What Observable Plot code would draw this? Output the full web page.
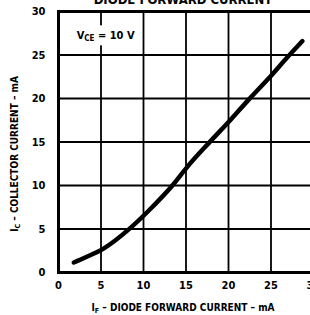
<!DOCTYPE html>
<html><head><meta charset="utf-8">
<script src="https://cdn.jsdelivr.net/npm/d3@7"></script>
<script src="https://cdn.jsdelivr.net/npm/@observablehq/plot@0.6"></script>
<style>html,body{margin:0;padding:0;background:#fff;overflow:hidden}</style>
</head><body><div id="chart"></div>
<script>
const diodeCurrent = [1.8, 3.2, 5.3, 8.2, 10.6, 13.4, 15.2, 17.7, 20.2, 22.4, 24.9, 26.9, 28.7];
const collectorCurrent = [1.15, 1.75, 2.75, 4.9, 7.1, 10.0, 12.2, 14.9, 17.5, 19.9, 22.5, 24.7, 26.6];
const xTicks = [0, 5, 10, 15, 20, 25, 30];
const yTicks = [0, 5, 10, 15, 20, 25, 30];
const gridX = [5, 10, 15, 20, 25];
const gridY = [5, 10, 15, 20, 25];
const annotationPos = [5.6, 27.2];
const titleText = "DIODE FORWARD CURRENT";
const yLabel = ["I", "C", " – COLLECTOR CURRENT – mA"];
const xLabel = ["I", "F", " – DIODE FORWARD CURRENT – mA"];
const annoLabel = ["V", "CE", " = 10 V"];

const data = diodeCurrent.map((x, i) => ({x, y: collectorCurrent[i]}));
const font = "'Liberation Sans Narrow','DejaVu Sans Condensed','Liberation Sans',sans-serif";

const chart = Plot.plot({
  width: 310,
  height: 315,
  marginLeft: 58,
  marginRight: -3,
  marginTop: 11,
  marginBottom: 43,
  style: {fontFamily: font, fontWeight: "bold", fontSize: "11px", background: "#fff", color: "#000"},
  x: {domain: [0, 30]},
  y: {domain: [0, 30]},
  marks: [
    Plot.ruleX(gridX, {stroke: "#000", strokeWidth: 1.8}),
    Plot.ruleY(gridY, {stroke: "#000", strokeWidth: 1.8}),
    Plot.frame({stroke: "#000", strokeWidth: 3}),
    Plot.line(data, {x: "x", y: "y", curve: "monotone-x", stroke: "#000", strokeWidth: 4.5}),
    Plot.axisX({ticks: xTicks, tickSize: 0, tickPadding: 9, label: null, fontWeight: "bold"}),
    Plot.axisY({ticks: yTicks, tickSize: 0, tickPadding: 13, label: null, fontWeight: "bold"})
  ]
});
document.getElementById("chart").appendChild(chart);

const svg = d3.select(chart);
const sx = chart.scale("x"), sy = chart.scale("y");

function sub(textSel, parts, subSize) {
  textSel.append("tspan").text(parts[0]);
  textSel.append("tspan").attr("font-size", subSize).attr("dy", 2).text(parts[1]);
  textSel.append("tspan").attr("dy", -2).text(parts[2]);
}

// annotation with white background
const ax = sx.apply(annotationPos[0]), ay = sy.apply(annotationPos[1]);
const g = svg.append("g").attr("font-family", font).attr("font-weight", "bold");
const bg = g.append("rect").attr("fill", "#fff");
const at = g.append("text").attr("x", ax).attr("y", ay + 4).attr("text-anchor", "middle").attr("font-size", 11);
sub(at, annoLabel, 8);
const bb = at.node().getBBox();
bg.attr("x", bb.x - 2).attr("y", ay - 10).attr("width", bb.width + 4).attr("height", 20);

// title, clipped at the top as in the reference
svg.append("text").attr("x", 183).attr("y", 4).attr("text-anchor", "middle")
  .attr("font-family", font).attr("font-weight", "bold").attr("font-size", 13).text(titleText);

// y label
const yl = svg.append("text").attr("transform", "translate(18,154) rotate(-90)").attr("text-anchor", "middle")
  .attr("font-family", font).attr("font-weight", "bold").attr("font-size", 10);
sub(yl, yLabel, 7);

// x label
const xl = svg.append("text").attr("x", 183).attr("y", 311).attr("text-anchor", "middle")
  .attr("font-family", font).attr("font-weight", "bold").attr("font-size", 10);
sub(xl, xLabel, 7);
</script>
</body></html>
